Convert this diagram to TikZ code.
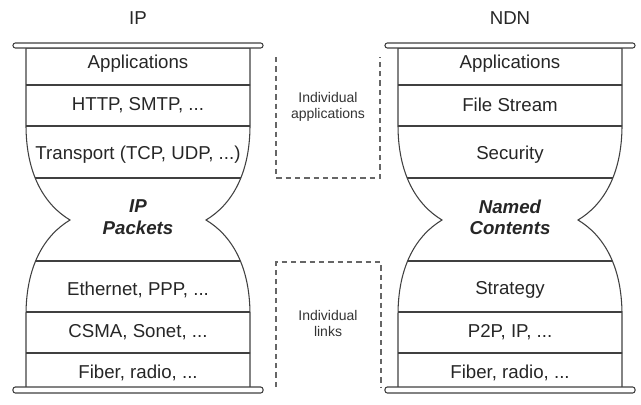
\documentclass[tikz,border=0pt]{standalone}
\usepackage{fontspec}
\setmainfont{Liberation Sans}
\tikzstyle{layer} = [font=\fontsize{14}{16}\selectfont, 
text=black!85, 
inner sep=0pt, 
align=center]
\tikzstyle{core} = [layer, 
font=\fontsize{14}{16}\selectfont\bfseries\itshape]
\tikzstyle{note} = [font=\fontsize{10.5}{12}\selectfont, 
text=black!80, 
inner sep=0pt, 
align=center]
\tikzstyle{outline} = [draw=black!75, line width=0.8pt]
\tikzstyle{sep} = [draw=black!75, line width=0.8pt]
\tikzstyle{rim} = [draw=black!75, fill=white, line width=0.8pt, rounded corners=1.8pt]
\tikzstyle{bracket} = [draw=black!60, line width=0.8pt, dash pattern=on 4pt off 3pt]
% shape of one hourglass, centred on x=0
\newcommand{\hourglasspath}{(-112,48) -- (-112,125) .. controls (-112,175) and (-93,205) .. (-68,220) .. controls (-93,235) and (-112,265) .. (-112,315) -- (-112,390) -- (112,390) -- (112,315) .. controls (112,265) and (93,235) .. (68,220) .. controls (93,205) and (112,175) .. (112,125) -- (112,48) -- cycle}
\begin{document}
\begin{tikzpicture}[x=0.75pt, y=-0.75pt]
\useasboundingbox (0,0) rectangle (641,404);

% IP hourglass
\begin{scope}[shift={(138,0)}]
\begin{scope}
\clip \hourglasspath;
\foreach \y in {85,126,178,261,312,353}
  \draw [sep] (-120,\y) -- (120,\y);
\end{scope}
\draw [outline] \hourglasspath;
\draw [rim] (-125,43) rectangle (125,48);
\draw [rim] (-125,387) rectangle (125,393);
\end{scope}

% NDN hourglass
\begin{scope}[shift={(510,0)}]
\begin{scope}
\clip \hourglasspath;
\foreach \y in {85,126,178,261,312,353}
  \draw [sep] (-120,\y) -- (120,\y);
\end{scope}
\draw [outline] \hourglasspath;
\draw [rim] (-125,43) rectangle (125,48);
\draw [rim] (-125,387) rectangle (125,393);
\end{scope}

\node (ip) [layer] at (138,18) {IP};
\node (ipapp) [layer] at (138,64) {Applications};
\node (iphttp) [layer] at (138,105) {HTTP, SMTP, ...};
\node (iptransport) [layer] at (138,155) {Transport (TCP, UDP, ...)};
\node (ippackets) [core] at (138,217) {IP\\Packets};
\node (ipeth) [layer] at (138,290) {Ethernet, PPP, ...};
\node (ipcsma) [layer] at (138,332) {CSMA, Sonet, ...};
\node (ipfiber) [layer] at (138,373) {Fiber, radio, ...};

\node (ndn) [layer] at (510,18) {NDN};
\node (ndnapp) [layer] at (510,64) {Applications};
\node (ndnfile) [layer] at (510,105) {File Stream};
\node (ndnsec) [layer] at (510,155) {Security};
\node (ndncontent) [core] at (510,217) {Named\\Contents};
\node (ndnstrategy) [layer] at (510,290) {Strategy};
\node (ndnp2p) [layer] at (510,332) {P2P, IP, ...};
\node (ndnfiber) [layer] at (510,373) {Fiber, radio, ...};

% dashed brackets between the stacks
\draw [bracket] (276,57) -- (276,178) -- (380,178) -- (380,57);
\node (indapp) [note] at (328,107) {Individual\\applications};
\draw [bracket] (276,387) -- (276,262) -- (381,262) -- (381,387);
\node (indlink) [note] at (328,323) {Individual\\links};

\end{tikzpicture}
\end{document}
